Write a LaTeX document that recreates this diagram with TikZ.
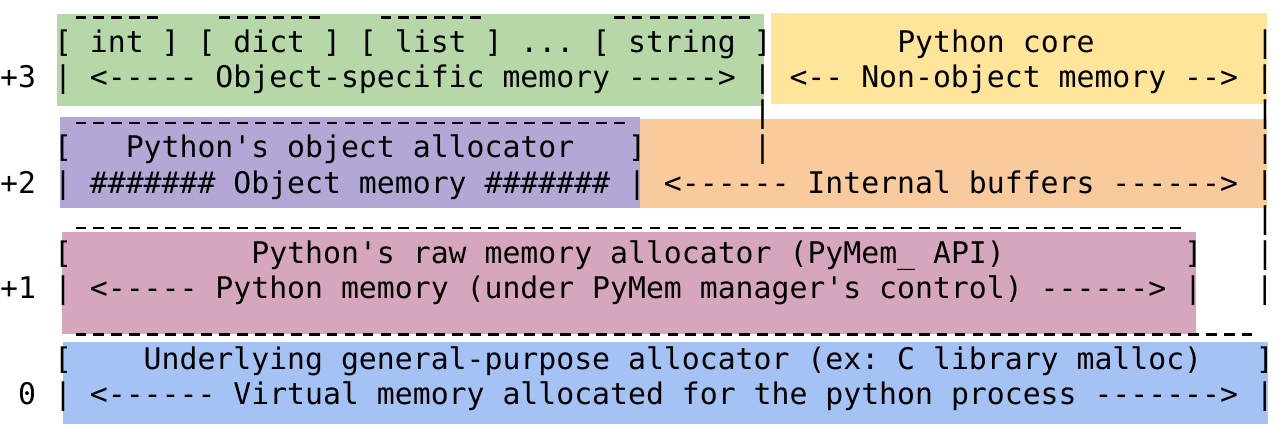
\documentclass[tikz,border=0pt]{standalone}
\usepackage{fontspec}
\setmonofont{DejaVu Sans Mono}
\definecolor{cgreen}{HTML}{B6D7A8}
\definecolor{cyellow}{HTML}{FFE599}
\definecolor{cpurple}{HTML}{B4A7D6}
\definecolor{corange}{HTML}{F9CB9C}
\definecolor{cpink}{HTML}{D5A6BD}
\definecolor{cblue}{HTML}{A4C2F4}
\tikzset{
  ascii/.style={anchor=base west, inner sep=0pt, outer sep=0pt,
    font=\ttfamily\fontsize{29.8}{35}\selectfont\frenchspacing},
  rule/.style={line width=2.2pt, dash pattern=on 10.8pt off 7.14pt}
}
% run of ASCII underscores drawn as a dashed rule: from column #1 to column #2 at height #3
\newcommand\dashrun[3]{\draw[rule] ({9.17+17.94*#1-5.4},#3) -- ({9.17+17.94*#2+5.4},#3);}
\begin{document}
\begin{tikzpicture}[x=1pt,y=-1pt]
\useasboundingbox (0,0) rectangle (1282,434);
% coloured bands
\fill[cgreen]  (57,14)  rectangle (764,106);
\fill[cyellow] (771,13) rectangle (1267,104);
\fill[cpurple] (60,117) rectangle (640,208);
\fill[corange] (640,119) rectangle (1267,208);
\fill[cpink]   (62,232) rectangle (1196,334);
\fill[cblue]   (63,342) rectangle (1268,424);
% rules
\dashrun{4}{8}{17.5}
\dashrun{12}{17}{17.5}
\dashrun{21}{26}{17.5}
\dashrun{34}{41}{17.5}
\dashrun{4}{34}{122.6}
\dashrun{4}{65}{228.2}
\dashrun{4}{69}{334.5}
% ASCII lines
\node[ascii] (l1) at (0.2,52.2) {~~~[~int~]~[~dict~]~[~list~]~...~[~string~]~~~~~~~Python~core~~~~~~~~~|};
\node[ascii] (l2) at (0.2,87.4) {+3~|~<-----~Object-specific~memory~----->~|~<--~Non-object~memory~-->~|};
\node[ascii] (l3) at (0.2,122.6) {~~~~~~~~~~~~~~~~~~~~~~~~~~~~~~~~~~~~~~~~~~|~~~~~~~~~~~~~~~~~~~~~~~~~~~|};
\node[ascii] (l4) at (0.2,157.8) {~~~[~~~Python's~object~allocator~~~]~~~~~~|~~~~~~~~~~~~~~~~~~~~~~~~~~~|};
\node[ascii] (l5) at (0.2,193.0) {+2~|~\#\#\#\#\#\#\#~Object~memory~\#\#\#\#\#\#\#~|~<------~Internal~buffers~------>~|};
\node[ascii] (l6) at ({0.2+17.94*70},228.2) {|};
\node[ascii] (l7) at (0.2,263.4) {~~~[~~~~~~~~~~Python's~raw~memory~allocator~(PyMem\_~API)~~~~~~~~~~]~~~|};
\node[ascii] (l8) at (0.2,298.6) {+1~|~<-----~Python~memory~(under~PyMem~manager's~control)~------>~|~~~|};
\node[ascii] (l10) at (0.2,369.0) {~~~[~~~~Underlying~general-purpose~allocator~(ex:~C~library~malloc)~~~]};
\node[ascii] (l11) at (0.2,404.2) {~0~|~<------~Virtual~memory~allocated~for~the~python~process~------->~|};
\end{tikzpicture}
\end{document}
